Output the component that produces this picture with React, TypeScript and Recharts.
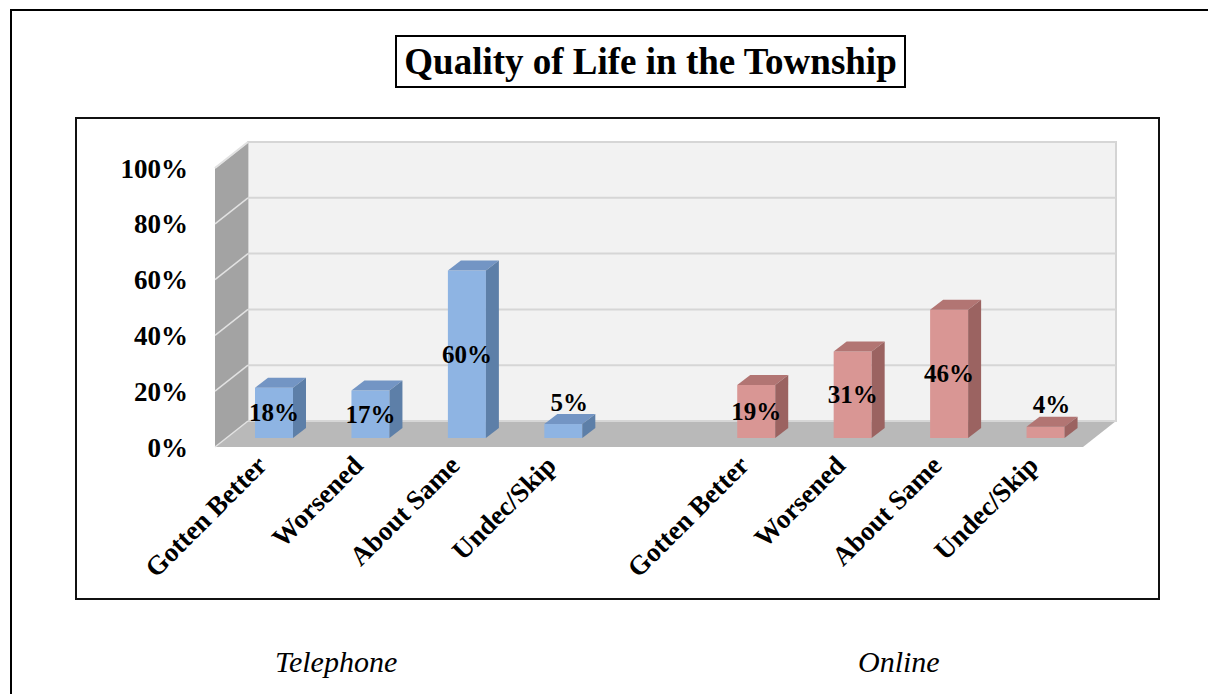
import {Bar, BarChart, LabelList, ReferenceArea, ReferenceLine, XAxis, YAxis} from "recharts";

const categories = ["Gotten Better", "Worsened", "About Same", "Undec/Skip"];
const telephone = [18, 17, 60, 5];
const online = [19, 31, 46, 4];
const yTicks = [0, 20, 40, 60, 80, 100];
const groupNames = ["Telephone", "Online"];

const rows = [
    ...categories.map((c, i) => ({id: `tel-${i}`, name: c, group: "tel", value: telephone[i]})),
    {id: "gap", name: "", group: "gap", value: null},
    ...categories.map((c, i) => ({id: `onl-${i}`, name: c, group: "onl", value: online[i]})),
];

// depth of the 3d box (back wall offset) and where bars sit inside it
const DX = 33;
const DY = -26;
const BX = 11;
const BY = -9;
const TX = 13;
const TY = -10;

const FONT = "'Liberation Serif', 'Times New Roman', serif";

const colors: Record<string, { front: string, top: string, side: string }> = {
    tel: {front: "#8eb4e3", top: "#7395c4", side: "#5d7fa8"},
    onl: {front: "#d99694", top: "#b27573", side: "#9b6361"},
};

function Walls(props: any) {
    const {x, y, width, height} = props;
    const b = y + height;
    return (
        <g>
            <rect x={x + DX} y={y + DY} width={width} height={height} fill="#f2f2f2" stroke="#d4d4d4" strokeWidth={2}/>
            <polygon points={`${x},${b} ${x},${y} ${x + DX},${y + DY} ${x + DX},${b + DY}`} fill="#a3a3a3"/>
            <polyline points={`${x},${y} ${x + DX},${y + DY}`} stroke="#e4e4e4" strokeWidth={2} fill="none"/>
            <polygon points={`${x},${b} ${x + DX},${b + DY} ${x + width + DX},${b + DY} ${x + width},${b}`} fill="#b9b9b9"/>
        </g>
    );
}

function GridLine(props: any) {
    const {x1, y1, x2, y2} = props;
    if (x1 == null) return null;
    return (
        <g>
            <line x1={x1 + DX} y1={y1 + DY} x2={x2 + DX} y2={y2 + DY} stroke="#d6d6d6" strokeWidth={2}/>
            <line x1={x1} y1={y1} x2={x1 + DX} y2={y1 + DY} stroke="#e2e2e2" strokeWidth={1.5}/>
        </g>
    );
}

function Bar3D(props: any) {
    const {x, y, width, height, payload} = props;
    if (payload == null || payload.value == null || height == null) return null;
    const c = colors[payload.group];
    const fx = x + BX;
    const fy = y + BY;
    const r = fx + width;
    return (
        <g>
            <rect x={fx} y={fy} width={width} height={height} fill={c.front}/>
            <polygon points={`${fx},${fy} ${fx + TX},${fy + TY} ${r + TX},${fy + TY} ${r},${fy}`} fill={c.top}/>
            <polygon points={`${r},${fy} ${r + TX},${fy + TY} ${r + TX},${fy + height + TY} ${r},${fy + height}`}
                     fill={c.side}/>
        </g>
    );
}

function ValueLabel(props: any) {
    const {x, y, width, height, value} = props;
    if (value == null) return null;
    const small = value < 10;
    const cx = x + BX + width / 2 + (small ? 6 : 0);
    const cy = small ? y + BY - 22 : y + BY + height / 2;
    return (
        <text x={cx} y={cy} textAnchor="middle" dominantBaseline="central" fontFamily={FONT} fontWeight="bold"
              fontSize={25} fill="#000">{value}%</text>
    );
}

function XTick(props: any) {
    const {x, y, index} = props;
    const row = rows[index];
    if (!row || !row.name) return null;
    return (
        <text transform={`translate(${x + 5},${y + 18}) rotate(-45)`} textAnchor="end" fontFamily={FONT}
              fontWeight="bold" fontSize={27} fill="#000">{row.name}</text>
    );
}

export default function App() {
    return (
        <div style={{position: "absolute", left: 0, top: 0, width: 1208, height: 694, background: "#fff", overflow: "hidden", fontFamily: FONT}}>
            <div style={{position: "absolute", left: 10, top: 9, width: 1300, height: 800, borderTop: "2px solid #000", borderLeft: "2px solid #000"}}/>
            <div style={{position: "absolute", left: 75, top: 117, width: 1085, height: 483, border: "2px solid #111", boxSizing: "border-box"}}/>
            <div style={{
                position: "absolute", left: 395, top: 35, width: 511, height: 53, border: "2px solid #000", boxSizing: "border-box",
                display: "flex", alignItems: "center", justifyContent: "center", fontSize: 37, fontWeight: "bold", color: "#000"
            }}>
                Quality of Life in the Township
            </div>
            <div style={{position: "absolute", left: 0, top: 0}}>
                <BarChart width={1208} height={694} data={rows} margin={{top: 168, right: 125, bottom: 147, left: 115}}>
                    <ReferenceArea y1={0} y2={100} ifOverflow="visible" shape={(p: any) => <Walls {...p}/>} zIndex={-300}/>
                    {yTicks.map((t) => (
                        <ReferenceLine key={t} y={t} ifOverflow="visible" shape={(p: any) => <GridLine {...p}/>} zIndex={-250}/>
                    ))}
                    <XAxis dataKey="id" height={100} axisLine={false} tickLine={false} tickSize={0} interval={0}
                           tick={(p: any) => <XTick {...p}/>}/>
                    <YAxis width={100} domain={[0, 100]} ticks={yTicks} axisLine={false} tickLine={false} tickSize={0}
                           tickMargin={27} tickFormatter={(v) => `${v}%`}
                           tick={{fontFamily: FONT, fontWeight: "bold", fontSize: 27, fill: "#000"}}/>
                    <Bar dataKey="value" barSize={38} isAnimationActive={false} shape={(p: any) => <Bar3D {...p}/>}>
                        <LabelList dataKey="value" content={(p: any) => <ValueLabel {...p}/>}/>
                    </Bar>
                </BarChart>
            </div>
            <div style={{position: "absolute", left: 275, top: 645, fontSize: 30, fontStyle: "italic", color: "#000"}}>{groupNames[0]}</div>
            <div style={{position: "absolute", left: 858, top: 645, fontSize: 30, fontStyle: "italic", color: "#000"}}>{groupNames[1]}</div>
        </div>
    );
}
